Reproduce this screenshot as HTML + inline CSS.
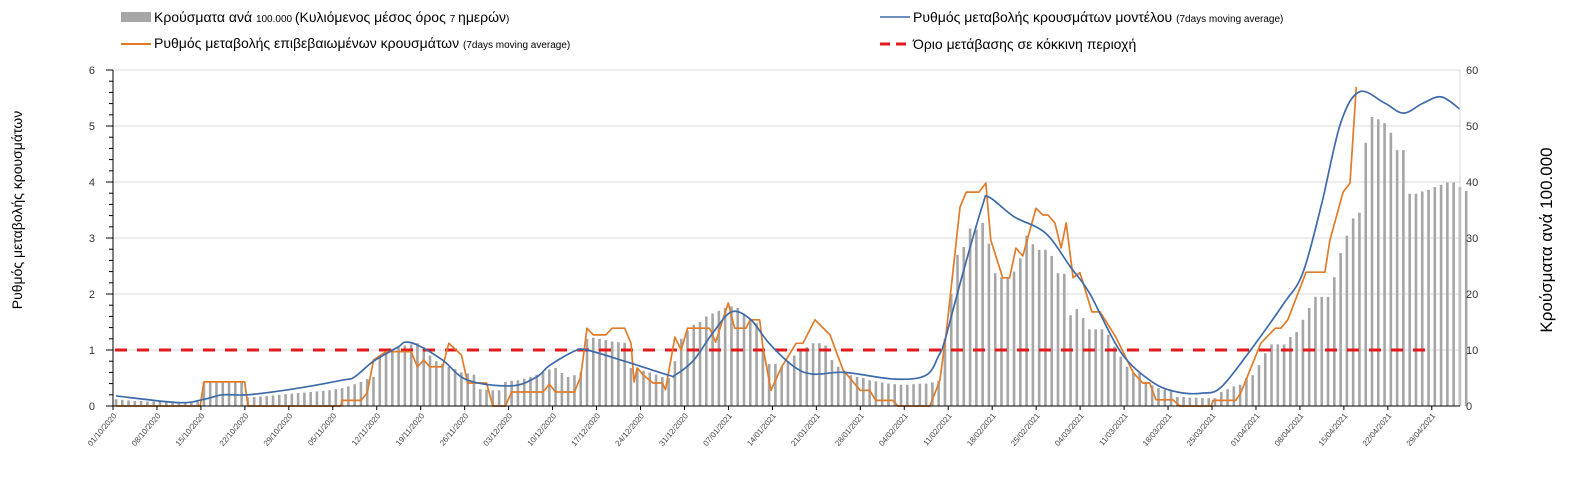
<!DOCTYPE html>
<html><head><meta charset="utf-8"><style>
body{margin:0;background:#fff;}
svg{display:block;font-family:"Liberation Sans","DejaVu Sans",sans-serif;}
</style></head><body>
<svg id="chart" width="1571" height="487" viewBox="0 0 1571 487" xmlns="http://www.w3.org/2000/svg">
<g>
<rect x="121" y="12" width="30" height="10" fill="#a6a6a6"/>
<text x="154" y="22" font-size="14" fill="#000">Κρούσματα ανά <tspan font-size="10">100.000 </tspan>(Κυλιόμενος μέσος όρος <tspan font-size="10">7 </tspan>ημερών<tspan font-size="10">)</tspan></text>
<line x1="121" y1="44" x2="151" y2="44" stroke="#e07b2a" stroke-width="2"/>
<text x="154" y="48" font-size="14" fill="#000">Ρυθμός μεταβολής επιβεβαιωμένων κρουσμάτων <tspan font-size="10">(7days moving average)</tspan></text>
<line x1="880" y1="17" x2="910" y2="17" stroke="#3e6aaa" stroke-width="1.5"/>
<text x="913" y="22" font-size="14" fill="#000">Ρυθμός μεταβολής κρουσμάτων μοντέλου <tspan font-size="10">(7days moving average)</tspan></text>
<line x1="880" y1="44" x2="908" y2="44" stroke="#e31a1c" stroke-width="3" stroke-dasharray="10,6"/>
<text x="913" y="49" font-size="14" fill="#000">Όριο μετάβασης σε κόκκινη περιοχή</text>
</g>
<text transform="translate(22,210) rotate(-90)" text-anchor="middle" font-size="14" fill="#000">Ρυθμός μεταβολής κρουσμάτων</text>
<text transform="translate(1552,240) rotate(-90)" text-anchor="middle" font-size="17" fill="#000">Κρούσματα ανά 100.000</text>
<g id="grid"></g><g id="bars"></g><g id="lines"></g><g id="axes"></g>
</svg>
<script>
const leftTicks=[0,1,2,3,4,5,6];
const rightTicks=[0,10,20,30,40,50,60];
const dateLabels=["01/10/2020","08/10/2020","15/10/2020","22/10/2020","29/10/2020","05/11/2020","12/11/2020","19/11/2020","26/11/2020","03/12/2020","10/12/2020","17/12/2020","24/12/2020","31/12/2020","07/01/2021","14/01/2021","21/01/2021","28/01/2021","04/02/2021","11/02/2021","18/02/2021","25/02/2021","04/03/2021","11/03/2021","18/03/2021","25/03/2021","01/04/2021","08/04/2021","15/04/2021","22/04/2021","29/04/2021"];
const cases=[1.2,1.1,1.0,0.9,0.9,0.8,0.8,0.8,0.7,0.7,0.7,0.7,0.8,0.8,
4.3,4.3,4.3,4.3,4.3,4.3,4.3,
1.5,1.6,1.7,1.8,1.9,2.0,2.1,2.2,2.3,2.4,2.5,2.6,2.7,2.8,3.0,3.2,3.5,3.9,4.3,4.8,5.2,
8.7,9.5,10.2,10.5,10.8,11.0,11.2,10.5,9.0,
8.0,7.5,7.0,6.6,6.0,5.8,5.6,
3.0,2.9,2.8,2.8,
4.3,4.5,4.6,4.9,5.2,5.6,6.0,6.5,6.8,5.9,5.2,5.5,6.0,
12.0,12.2,12.0,11.8,11.5,11.4,11.3,
6.8,6.5,6.3,6.0,5.6,5.2,5.0,8.0,
12.0,13.5,14.5,15.0,16.0,16.5,17.0,17.5,17.8,17.5,16.5,15.5,14.8,10.0,7.5,7.5,7.0,8.0,9.0,10.0,10.5,11.2,11.2,10.8,8.2,7.0,6.0,5.5,5.2,5.0,4.6,4.4,4.2,4.0,3.9,3.8,3.8,3.9,4.0,4.0,4.2,4.5,
12,20,27,28.4,31.7,31.5,32.7,29,23.7,23,23,24,26.4,30.4,28.9,27.9,27.9,26.8,23.7,23.6,16.2,17.3,15.7,13.7,13.7,13.7,12.7,10.6,8.8,7.0,6.0,5.9,4.3,3.7,3.2,2.9,2.6,1.6,
1.6,1.5,1.5,1.4,1.4,1.4,2.5,3.0,3.5,3.8,5.0,5.5,7.3,9.4,11,11,11,12.3,13.2,15.4,17.5,19.5,19.5,19.5,23,27.3,30.4,33.5,34.5,47,51.6,51.2,50.5,48.8,45.7,45.7,37.9,37.9,38.3,38.6,39.1,39.5,39.9,39.9,39.1,38.4];
const modelDays=[0,10,14,17,21,28,36,38,41,45,46,48,52,56,63,67,69,73,75,81,88,89,92,95,98,101,104,108,111,116,124,129,131,132,135,138,139,143,148,152,155,160,165,169,173,176,181,186,189,192,195,198,202,205,208,211,214];
const modelVals=[0.18,0.06,0.12,0.2,0.2,0.3,0.46,0.52,0.8,1.06,1.14,1.09,0.82,0.46,0.36,0.52,0.72,0.98,1.0,0.8,0.55,0.55,0.82,1.3,1.68,1.55,1.12,0.7,0.57,0.6,0.48,0.55,0.9,1.18,2.43,3.59,3.73,3.38,3.09,2.48,2.02,0.96,0.43,0.25,0.23,0.34,1.05,1.84,2.38,3.62,5.05,5.61,5.41,5.23,5.4,5.52,5.3];
const confDays=[0,13.4,14,20.5,21,35.8,36,39,40,41,43,47,48,49,50,52,53,55,56,59,60,62,63,68,69,70,73,74,75,76,78,79,81,82,82.5,83,84,85.5,87,87.5,89,90,91,94.5,95.5,96.5,97.5,98.5,100.3,101,102.5,103,104.3,106,108.3,109.4,111.3,113.7,115.8,118.5,120,121,123.7,124.5,129.6,131.2,132.2,134.4,135.4,137.4,138.5,139.3,141.2,142.3,143.3,144.4,146.5,147.6,148.4,149.5,150.5,151.3,152.4,153.5,155.4,156.7,159.2,162,163.5,164.6,165.6,168.3,169.4,174.4,174.7,178.3,179.1,182.3,184.6,185.5,186.6,189.5,192.5,193.3,195.4,196.5,197.5];
const confVals=[0,0,0.43,0.43,0,0,0.1,0.1,0.23,0.82,0.97,0.97,0.7,0.82,0.7,0.7,1.12,0.91,0.41,0.41,0,0,0.25,0.25,0.39,0.25,0.25,0.52,1.39,1.27,1.27,1.39,1.39,1.12,0.43,0.68,0.55,0.41,0.41,0.29,1.23,1.0,1.39,1.39,1.14,1.5,1.84,1.39,1.39,1.54,1.54,1.06,0.28,0.7,1.12,1.12,1.54,1.27,0.64,0.28,0.28,0.1,0.1,0,0,0.46,1.3,3.55,3.82,3.82,3.98,2.96,2.29,2.29,2.82,2.68,3.53,3.41,3.41,3.27,2.82,3.27,2.29,2.38,1.68,1.68,1.23,0.59,0.41,0.41,0.11,0.11,0,0,0.1,0.1,0.23,1.12,1.39,1.39,1.54,2.39,2.39,2.96,3.82,3.98,5.7];
const threshold=[1];
const NS="http://www.w3.org/2000/svg";
const X0=113,X1=1460,Y0=406,Y1=70,PXD=6.28;
const xd=d=>X0+3+d*PXD;
const yl=v=>Y0-(v/6)*(Y0-Y1);
const yr=v=>Y0-(v/60)*(Y0-Y1);
function mk(tag,parent,attrs){const e=document.createElementNS(NS,tag);for(const k in attrs)e.setAttribute(k,attrs[k]);parent.appendChild(e);return e;}
const grid=document.getElementById('grid'),bars=document.getElementById('bars'),lines=document.getElementById('lines'),axes=document.getElementById('axes');
leftTicks.forEach(t=>{
 if(t>0){const g=mk('line',grid,{x1:X0,x2:X1,y1:yl(t),y2:yl(t),stroke:'#d9d9d9','stroke-width':1});
 
 }
 const tk=mk('line',axes,{x1:X0-7,x2:X0,y1:yl(t),y2:yl(t),stroke:'#000','stroke-width':1});
 
 
 const tx=mk('text',axes,{x:X0-18,y:yl(t)+4,'text-anchor':'end','font-size':11,fill:'#333'});tx.textContent=t;
 
 
 if(t<6)for(let m=1;m<5;m++){const mt=mk('line',axes,{x1:X0-4,x2:X0,y1:yl(t+m*0.2),y2:yl(t+m*0.2),stroke:'#000','stroke-width':1});
 
 }
});
rightTicks.forEach(t=>{
 const tx=mk('text',axes,{x:X1+6,y:yr(t)+4,'font-size':11,fill:'#333'});tx.textContent=t;
 
 
});
cases.forEach((v,i)=>{
 const r=mk('rect',bars,{x:xd(i)-1.3,y:yr(v),width:2.6,height:Y0-yr(v),fill:'#a6a6a6'});
 
 
});
const th=mk('line',lines,{x1:X0+2,x2:xd(210),y1:yl(threshold[0]),y2:yl(threshold[0]),stroke:'#e31a1c','stroke-width':3,'stroke-dasharray':'12,10'});


let od='';confDays.forEach((d,i)=>{od+=(i?'L':'M')+xd(d).toFixed(1)+','+yl(confVals[i]).toFixed(1);});
const op=mk('path',lines,{d:od,fill:'none',stroke:'#e07b2a','stroke-width':1.7,'stroke-linejoin':'round'});


const P=modelDays.map((d,i)=>[xd(d),yl(modelVals[i])]);
let md='M'+P[0][0]+','+P[0][1];
for(let i=0;i<P.length-1;i++){const p0=P[Math.max(0,i-1)],p1=P[i],p2=P[i+1],p3=P[Math.min(P.length-1,i+2)];
 md+='C'+(p1[0]+(p2[0]-p0[0])/6).toFixed(1)+','+(p1[1]+(p2[1]-p0[1])/6).toFixed(1)+' '+(p2[0]-(p3[0]-p1[0])/6).toFixed(1)+','+(p2[1]-(p3[1]-p1[1])/6).toFixed(1)+' '+p2[0].toFixed(1)+','+p2[1].toFixed(1);}
const mp=mk('path',lines,{d:md,fill:'none',stroke:'#3e6aaa','stroke-width':1.7});


const ax=mk('line',axes,{x1:X0,x2:X0,y1:Y1,y2:Y0,stroke:'#000','stroke-width':1});


const axr=mk('line',axes,{x1:X1,x2:X1,y1:Y1,y2:Y0,stroke:'#d9d9d9','stroke-width':1});


const axb=mk('line',axes,{x1:X0,x2:X1,y1:Y0,y2:Y0,stroke:'#000','stroke-width':1});


dateLabels.forEach((l,i)=>{
 const x=X0+i*7*PXD;
 const tk=mk('line',axes,{x1:x,x2:x,y1:Y0,y2:Y0+4,stroke:'#000','stroke-width':1});
 
 
 const tx=mk('text',axes,{transform:`translate(${x+4},${Y0+10}) rotate(-50)`,'text-anchor':'end','font-size':8,fill:'#444'});tx.textContent=l;
 
 
});
</script>
</body></html>
